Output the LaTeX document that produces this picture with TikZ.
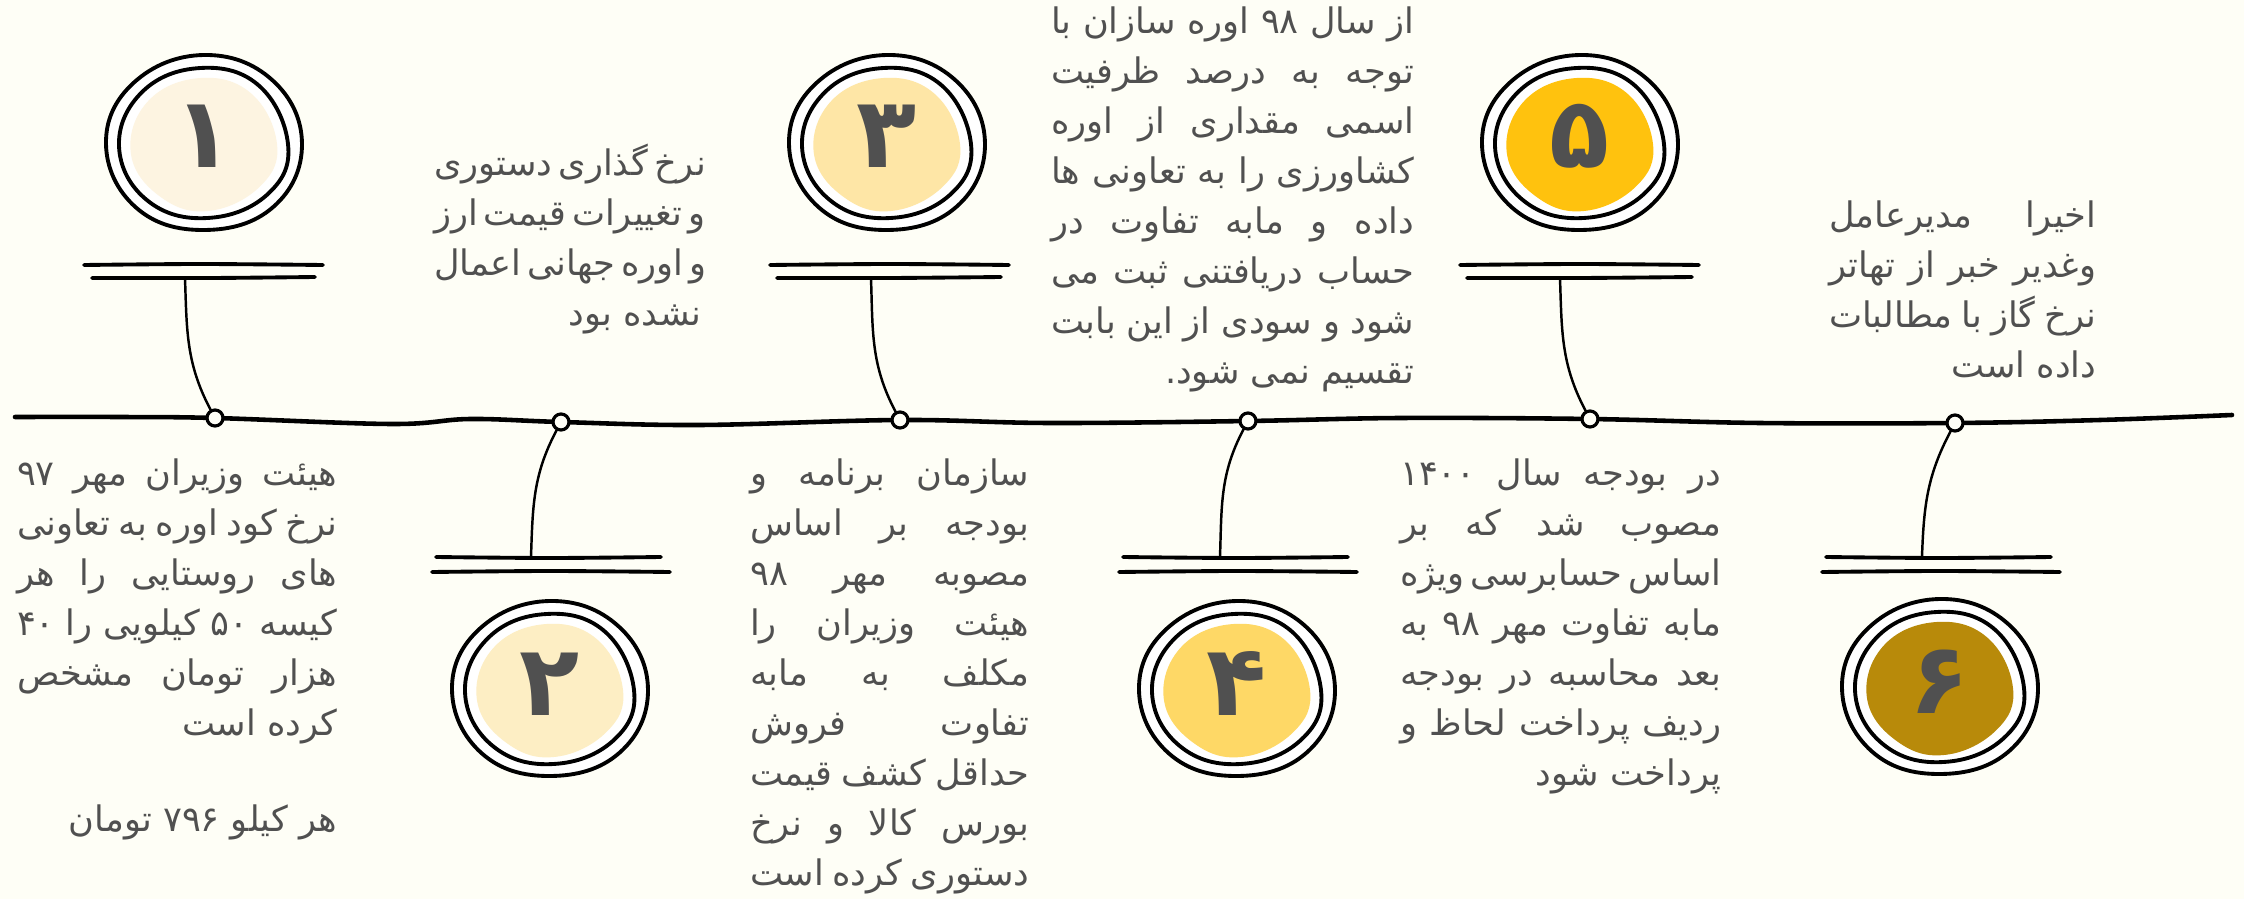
\documentclass[tikz,border=0pt]{standalone}
\usepackage{fontspec}
\usepackage{tikz}
\usetikzlibrary{calc}
\TeXXeTstate=1
\newfontfamily\fatext[Script=Arabic]{DejaVu Sans}
\definecolor{cBg}{HTML}{FEFEF6}
\definecolor{cInk}{HTML}{505050}
\definecolor{cOne}{HTML}{FDF4E1}
\definecolor{cTwo}{HTML}{FDEEC4}
\definecolor{cThree}{HTML}{FEE6A6}
\definecolor{cFour}{HTML}{FED866}
\definecolor{cFive}{HTML}{FFC20E}
\definecolor{cSix}{HTML}{B88A0A}
% one right-to-left line set full width, and a last line set flush right
\newcommand{\jline}[1]{\hbox to \hsize{\spaceskip=.22em plus 1fill minus .05em\beginR #1\endR}}
\newcommand{\eline}[1]{\hbox to \hsize{\hfill\beginR #1\endR}}
\newcommand{\fablock}[2]{\vtop{\hsize=#1\relax #2}}
% blob + two hand drawn rings around a centre
\newcommand{\ringset}[2]{%
  \draw[ring, fill=white, shift={(#1)}] plot[smooth cycle, tension=.7] coordinates
    {(0:98 and 88) (45:97 and 90) (90:98 and 89) (135:99 and 87) (180:98 and 89)
     (225:96 and 90) (270:99 and 86) (315:98 and 89)};
  \draw[ring, shift={(#1)}] plot[smooth cycle, tension=.7] coordinates
    {(0:84 and 76) (50:83 and 78) (95:85 and 76) (140:84 and 77) (185:85 and 76)
     (230:83 and 77) (275:85 and 74) (320:85 and 76)};
  \fill[#2, shift={(#1)}] plot[smooth cycle, tension=.7] coordinates
    {(0:73 and 64) (50:72 and 67) (95:74 and 66) (140:75 and 64) (190:74 and 64)
     (235:73 and 66) (275:72 and 67) (320:74 and 65)};
}

\begin{document}
\begin{tikzpicture}[x=0.01cm, y=0.01cm,
  ink/.style  = {draw=black, line cap=round, line join=round},
  axis/.style = {ink, line width=1.3pt},
  bar/.style  = {ink, line width=1.1pt},
  stem/.style = {ink, line width=.7pt},
  ring/.style = {ink, line width=1.1pt},
  dot/.style  = {circle, ink, line width=.9pt, fill=cBg, inner sep=0pt, minimum size=1.6mm},
  num/.style  = {font=\fatext\bfseries\fontsize{28}{28}\selectfont, text=cInk, inner sep=0pt},
  txt/.style  = {font=\fatext\fontsize{10}{14.23}\selectfont, text=cInk,
                 inner sep=0pt, anchor=base east}]

\fill[cBg] (0,0) rectangle (2244,899);
\useasboundingbox (0,0) rectangle (2244,899);

% ---- the time line --------------------------------------------------------
\draw[axis] plot[smooth, tension=.6] coordinates
  {(15,482) (120,482) (215,481) (392,475) (470,480) (561,477) (700,474) (900,479)
   (1050,476) (1248,478) (1400,481) (1590,480) (1760,476) (1955,476) (2100,479) (2232,484)};

\node[dot] (d1) at (215,481) {};
\node[dot] (d2) at (561,477) {};
\node[dot] (d3) at (900,479) {};
\node[dot] (d4) at (1248,478) {};
\node[dot] (d5) at (1590,480) {};
\node[dot] (d6) at (1955,476) {};

% ---- numbered rings ---------------------------------------------------------
\coordinate (c1) at (204,755);
\coordinate (c2) at (550,209);
\coordinate (c3) at (887,755);
\coordinate (c4) at (1237,209);
\coordinate (c5) at (1580,755);
\coordinate (c6) at (1940,211);
\ringset{c1}{cOne}
\ringset{c2}{cTwo}
\ringset{c3}{cThree}
\ringset{c4}{cFour}
\ringset{c5}{cFive}
\ringset{c6}{cSix}
\node[num] (n1) at ($(c1)+(0,8)$) {۱};
\node[num] (n2) at ($(c2)+(0,6)$) {۲};
\node[num] (n3) at ($(c3)+(0,8)$) {۳};
\node[num] (n4) at ($(c4)+(0,6)$) {۴};
\node[num] (n5) at ($(c5)+(0,8)$) {۵};
\node[num] (n6) at ($(c6)+(0,6)$) {۶};

% ---- double bars and stems --------------------------------------------------
\draw[bar] plot[smooth] coordinates {(84,634) (200,635) (323,634)};
\draw[bar] plot[smooth] coordinates {(92,621) (210,621) (315,622)};
\draw[bar] plot[smooth] coordinates {(770,634) (890,635) (1009,634)};
\draw[bar] plot[smooth] coordinates {(777,621) (890,621) (1001,622)};
\draw[bar] plot[smooth] coordinates {(1460,634) (1580,635) (1699,634)};
\draw[bar] plot[smooth] coordinates {(1467,621) (1580,621) (1692,622)};
\draw[bar] plot[smooth] coordinates {(436,342) (550,341) (661,342)};
\draw[bar] plot[smooth] coordinates {(432,327) (550,328) (670,327)};
\draw[bar] plot[smooth] coordinates {(1123,342) (1237,341) (1348,342)};
\draw[bar] plot[smooth] coordinates {(1119,327) (1237,328) (1357,327)};
\draw[bar] plot[smooth] coordinates {(1826,342) (1940,341) (2051,342)};
\draw[bar] plot[smooth] coordinates {(1822,327) (1940,328) (2060,327)};

\coordinate (s1) at (185,621);
\coordinate (s2) at (531,342);
\coordinate (s3) at (871,621);
\coordinate (s4) at (1220,342);
\coordinate (s5) at (1560,621);
\coordinate (s6) at (1922,342);
\draw[stem] (d1) to[out=118, in=-88] (s1);
\draw[stem] (d3) to[out=118, in=-88] (s3);
\draw[stem] (d5) to[out=118, in=-88] (s5);
\draw[stem] (d2) to[out=-118, in=88] (s2);
\draw[stem] (d4) to[out=-118, in=88] (s4);
\draw[stem] (d6) to[out=-118, in=88] (s6);

% ---- texts ------------------------------------------------------------------
\node[txt] (t1) at (338,414) {\fablock{3.20cm}{%
  \jline{هیئت وزیران مهر ۹۷}
  \jline{نرخ کود اوره به تعاونی}
  \jline{های روستایی را هر}
  \jline{کیسه ۵۰ کیلویی را ۴۰}
  \jline{هزار تومان مشخص}
  \eline{کرده است}
  \vskip .46cm
  \eline{هر کیلو ۷۹۶ تومان}}};

\node[txt] (t2) at (702,724) {\fablock{2.67cm}{%
  \jline{نرخ گذاری دستوری}
  \jline{و تغییرات قیمت ارز}
  \jline{و اوره جهانی اعمال}
  \eline{نشده بود}}};

\node[txt] (t3) at (1030,414) {\fablock{2.79cm}{%
  \jline{سازمان برنامه و}
  \jline{بودجه بر اساس}
  \jline{مصوبه مهر ۹۸}
  \jline{هیئت وزیران را}
  \jline{مکلف به مابه}
  \jline{تفاوت فروش}
  \jline{حداقل کشف قیمت}
  \jline{بورس کالا و نرخ}
  \eline{دستوری کرده است}}};

\node[txt] (t4) at (1415,866) {\fablock{3.63cm}{%
  \jline{از سال ۹۸ اوره سازان با}
  \jline{توجه به درصد ظرفیت}
  \jline{اسمی مقداری از اوره}
  \jline{کشاورزی را به تعاونی ها}
  \jline{داده و مابه تفاوت در}
  \jline{حساب دریافتنی ثبت می}
  \jline{شود و سودی از این بابت}
  \eline{تقسیم نمی شود.}}};

\node[txt] (t5) at (1722,414) {\fablock{3.21cm}{%
  \jline{در بودجه سال ۱۴۰۰}
  \jline{مصوب شد که بر}
  \jline{اساس حسابرسی ویژه}
  \jline{مابه تفاوت مهر ۹۸ به}
  \jline{بعد محاسبه در بودجه}
  \jline{ردیف پرداخت لحاظ و}
  \eline{پرداخت شود}}};

\node[txt] (t6) at (2097,672) {\fablock{2.67cm}{%
  \jline{اخیرا مدیرعامل}
  \jline{وغدیر خبر از تهاتر}
  \jline{نرخ گاز با مطالبات}
  \eline{داده است}}};

\end{tikzpicture}
\end{document}
